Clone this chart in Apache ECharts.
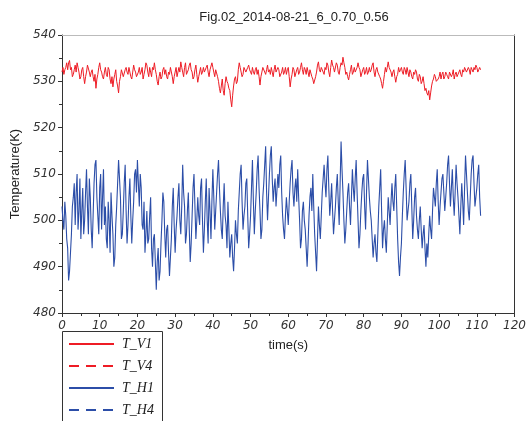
<!DOCTYPE html>
<html>
<head>
<meta charset="utf-8">
<script src="https://cdn.jsdelivr.net/npm/echarts@6/dist/echarts.min.js"></script>
<style>html,body{margin:0;padding:0;background:#fff;}#chart{width:529px;height:421px;}</style>
</head>
<body>
<div id="chart"></div>
<script>
var titleText = 'Fig.02_2014-08-21_6_0.70_0.56';
var seriesNames = ['T_V1', 'T_V4', 'T_H1', 'T_H4'];
var sampleStep = 0.25; // seconds between samples
var xTicks = [0, 10, 20, 30, 40, 50, 60, 70, 80, 90, 100, 110, 120];
var yTicks = [480, 490, 500, 510, 520, 530, 540];

var tV1 = [
 532, 533, 531.5, 532.5, 533, 534, 532.5, 534, 534.5, 532.5, 533, 531, 531.5, 532.5, 533.5, 532, 534, 533, 532, 530.5,
 531, 532.5, 533, 531, 529.5, 531, 532, 533.5, 533.5, 532, 531, 532, 532.5, 531, 530, 531.5, 528.5, 530.5, 531.5, 533,
 534, 532.5, 532, 531, 530.5, 532, 533, 531.5, 531, 533, 532.5, 530.5, 529.5, 531, 528.8, 530.5, 531.5, 532.5, 530, 529,
 527.5, 530, 531, 532.5, 532.5, 531, 531, 532.5, 533, 532, 531.5, 533, 532, 531, 530.5, 532, 533.5, 532.5, 532, 531,
 531, 532, 533, 531.5, 532, 533, 530.5, 531.5, 532.5, 534, 533.5, 532, 531, 533, 532, 531, 533, 532.5, 534, 532.5,
 531.5, 530, 529.2, 531, 532, 530.5, 531, 532.5, 533, 531.5, 532.5, 531, 530.5, 532, 531.5, 533, 533, 531, 529.5, 531,
 532, 533, 531, 532, 533, 532, 534.2, 533, 532, 531, 533, 534, 531.5, 532, 532.5, 533.5, 534, 532.5, 532, 530.5,
 531, 532.5, 533.5, 531.5, 529.8, 531, 532, 533, 531.5, 532, 533, 532, 532, 533, 533.5, 532, 531, 532.5, 532.5, 534,
 533, 532, 531, 532.5, 532.5, 531, 530, 528.5, 527.5, 529, 530.5, 528, 527, 529.5, 531, 530, 529.5, 528.5, 528, 526,
 524.5, 527, 529, 530.5, 531, 529.5, 530, 532.5, 534, 533, 532, 531, 531.5, 533, 533, 532, 532, 533, 533.5, 532.5,
 532, 531.5, 533, 532, 531.5, 532.5, 533, 531.5, 532.5, 531, 529.2, 531, 532, 533, 533, 532, 531.5, 532.5, 533.5, 532,
 532.5, 531.5, 533, 532, 531, 532.5, 533.5, 532, 532, 533, 532.5, 531, 531, 532, 533, 531.5, 532, 533, 531.5, 532.5,
 533, 531, 528.8, 530.5, 531.5, 533, 532.5, 531, 531, 532.5, 533, 531.5, 532, 533, 534, 532.5, 531.5, 533, 532.5, 531.5,
 533, 532, 531, 532.5, 532.5, 531, 530.5, 529.5, 529.2, 531, 532, 533.5, 534.2, 532.5, 532, 533, 533, 532, 531.5, 533,
 532.5, 534, 533.5, 532, 531, 533, 534.6, 533.5, 533, 532, 532, 534, 533.5, 532, 531.5, 533, 534, 533.5, 535.2, 534,
 533, 531.5, 532, 531, 530.3, 531.5, 532.5, 533.5, 531.5, 532, 533, 532, 532, 533, 534, 533, 532.5, 531, 531, 532.5,
 533, 531.5, 532, 533, 531.5, 532, 533, 532, 532.5, 533.5, 534, 532, 531, 532.5, 533, 532, 532, 531, 530.5, 529.5,
 528.5, 530, 531.5, 533, 532, 533, 534.2, 533, 533, 532, 531, 532, 532.5, 531, 529.8, 531, 531.5, 533, 532, 532.5,
 533, 532, 531.5, 533, 532.5, 531.5, 533, 532, 531, 532.5, 532, 531, 530.5, 532, 531.5, 532.5, 532, 530.5, 530, 531.5,
 531, 529.5, 530, 531, 529.5, 528, 528.5, 527.5, 527, 528, 526, 527.5, 529, 530, 530.5, 531.5, 531, 530, 529.8, 530.5,
 531, 532, 530.5, 531.5, 532, 530.5, 531, 532, 531.5, 531, 530.5, 532, 532, 531, 531.5, 532.5, 530.5, 531.5, 532, 531,
 531.5, 532, 532.5, 531.5, 531, 532.5, 532, 533, 533, 532, 532, 533, 532.5, 531.5, 533, 532.5, 532, 533, 532.5, 533.5,
 533, 532, 532.5, 533, 532.5
];
var tV4 = [];
var tH1 = [
 503, 500, 498, 504, 501, 496, 494, 487, 489, 493, 497, 503, 505, 508, 499, 506, 510, 498, 502, 509,
 496, 502, 507, 497, 500, 506, 511, 503, 497, 509, 505, 498, 494, 501, 508, 512, 513, 505, 501, 497,
 507, 510, 498, 505, 511, 499, 503, 496, 494, 504, 500, 493, 506, 501, 497, 490, 492, 499, 503, 508,
 513, 509, 505, 496, 497, 502, 508, 512, 502, 495, 499, 505, 509, 501, 495, 500, 504, 510, 511, 506,
 513, 508, 503, 510, 507, 499, 498, 504, 493, 497, 502, 495, 496, 501, 505, 494, 490, 496, 497, 491,
 485, 491, 494, 487, 489, 495, 500, 506, 504, 497, 492, 498, 499, 493, 488, 492, 496, 503, 507, 499,
 493, 498, 501, 505, 508, 500, 497, 503, 512, 506, 503, 495, 497, 502, 506, 498, 491, 495, 501, 507,
 510, 503, 496, 500, 505, 501, 499, 507, 509, 500, 493, 498, 504, 509, 500, 495, 507, 502, 496, 504,
 511, 505, 498, 502, 506, 510, 513, 507, 502, 498, 496, 503, 508, 501, 499, 494, 504, 498, 492, 495,
 497, 492, 489, 494, 500, 497, 495, 502, 506, 510, 512, 504, 498, 501, 503, 508, 509, 501, 494, 497,
 501, 507, 513, 504, 497, 502, 506, 511, 514, 507, 502, 496, 498, 505, 508, 512, 516, 506, 500, 505,
 510, 514, 516, 509, 504, 507, 509, 503, 503, 510, 507, 512, 514, 506, 501, 498, 496, 501, 505, 502,
 499, 504, 508, 511, 513, 506, 503, 507, 509, 504, 511, 505, 500, 494, 496, 502, 504, 500, 498, 494,
 490, 495, 501, 505, 507, 502, 510, 503, 497, 493, 489, 496, 503, 499, 496, 501, 506, 509, 512, 508,
 505, 511, 514, 507, 501, 504, 508, 502, 497, 500, 503, 507, 510, 504, 499, 508, 517, 511, 506, 500,
 495, 498, 502, 506, 508, 503, 499, 505, 511, 507, 504, 509, 513, 506, 500, 494, 497, 502, 506, 509,
 510, 503, 498, 506, 513, 509, 505, 502, 500, 496, 492, 495, 497, 493, 491, 497, 503, 507, 511, 502,
 494, 498, 500, 496, 493, 499, 505, 502, 499, 504, 508, 504, 502, 507, 510, 503, 496, 491, 488, 492,
 495, 501, 506, 510, 513, 507, 500, 502, 504, 508, 510, 503, 496, 500, 505, 507, 501, 498, 496, 500,
 503, 498, 494, 497, 499, 494, 490, 495, 492, 497, 501, 498, 496, 502, 507, 505, 503, 508, 511, 504,
 499, 503, 506, 509, 510, 506, 502, 505, 508, 512, 514, 508, 503, 507, 511, 505, 501, 506, 512, 508,
 505, 501, 497, 503, 508, 504, 499, 507, 514, 510, 506, 502, 500, 505, 510, 513, 514, 508, 503, 505,
 507, 510, 512, 505, 501
];
var tH4 = [];

function toPairs(vals) {
  return vals.map(function (v, i) { return [i * sampleStep, v]; });
}

var RED = '#ee1c25';
var BLUE = '#2c4ea8';
var AX = '#333';
var numFont = { fontFamily: 'DejaVu Sans', fontStyle: 'italic', fontSize: 12, color: '#333' };

var chart = echarts.init(document.getElementById('chart'), null, { renderer: 'canvas' });
chart.setOption({
  animation: false,
  backgroundColor: '#fff',
  title: {
    text: titleText, left: 289, top: 6, textAlign: 'center',
    textStyle: { fontFamily: 'Liberation Sans', fontWeight: 'normal', fontSize: 13, color: '#222' }
  },
  graphic: [{
    type: 'rect', left: 62, top: 331, silent: true, z: 0,
    shape: { width: 100, height: 100 },
    style: { fill: '#fff', stroke: '#333', lineWidth: 1 }
  }],
  grid: { left: 62, right: 12, top: 35, bottom: 108, containLabel: false },
  legend: {
    show: true,
    orient: 'vertical', left: 68, top: 337, height: 84,
    data: seriesNames,
    padding: 0, itemGap: 8,
    itemWidth: 45, itemHeight: 14,
    itemStyle: { opacity: 0 },
    textStyle: { fontFamily: 'Liberation Serif', fontStyle: 'italic', fontSize: 14, color: '#222', padding: [0, 0, 0, 3] }
  },
  xAxis: [{
    type: 'value', min: xTicks[0], max: xTicks[xTicks.length - 1], interval: 10,
    name: 'time(s)', nameLocation: 'middle', nameGap: 26,
    nameTextStyle: { fontFamily: 'Liberation Sans', fontSize: 13, color: '#222' },
    axisLine: { show: true, onZero: false, lineStyle: { color: AX, width: 1 } },
    axisTick: { show: true, inside: false, length: 4, lineStyle: { color: AX } },
    minorTick: { show: true, splitNumber: 2, length: 3, lineStyle: { color: AX } },
    axisLabel: Object.assign({ margin: 7 }, numFont),
    splitLine: { show: false }
  }, {
    type: 'value', position: 'top', min: 0, max: 120,
    axisLine: { show: true, onZero: false, lineStyle: { color: '#bbb', width: 1 } },
    axisTick: { show: false }, axisLabel: { show: false }, splitLine: { show: false }
  }],
  yAxis: [{
    type: 'value', min: yTicks[0], max: yTicks[yTicks.length - 1], interval: 10,
    name: 'Temperature(K)', nameLocation: 'middle', nameGap: 40,
    nameTextStyle: { fontFamily: 'Liberation Sans', fontSize: 13, color: '#222' },
    axisLine: { show: true, onZero: false, lineStyle: { color: AX, width: 1 } },
    axisTick: { show: true, inside: false, length: 4, lineStyle: { color: AX } },
    minorTick: { show: true, splitNumber: 2, length: 3, lineStyle: { color: AX } },
    axisLabel: Object.assign({ margin: 6 }, numFont),
    splitLine: { show: false }
  }, {
    type: 'value', position: 'right', min: 480, max: 540,
    axisLine: { show: true, onZero: false, lineStyle: { color: AX, width: 1 } },
    axisTick: { show: false }, axisLabel: { show: false }, splitLine: { show: false }
  }],
  series: [
    { name: 'T_V1', type: 'line', data: toPairs(tV1), symbol: 'none', color: RED,
      lineStyle: { color: RED, width: 1 } },
    { name: 'T_V4', type: 'line', data: toPairs(tV4), symbol: 'none', color: RED,
      lineStyle: { color: RED, width: 1, type: [10, 7] } },
    { name: 'T_H1', type: 'line', data: toPairs(tH1), symbol: 'none', color: BLUE,
      lineStyle: { color: BLUE, width: 1.1 } },
    { name: 'T_H4', type: 'line', data: toPairs(tH4), symbol: 'none', color: BLUE,
      lineStyle: { color: BLUE, width: 1, type: [10, 7] } }
  ]
});
</script>
</body>
</html>
